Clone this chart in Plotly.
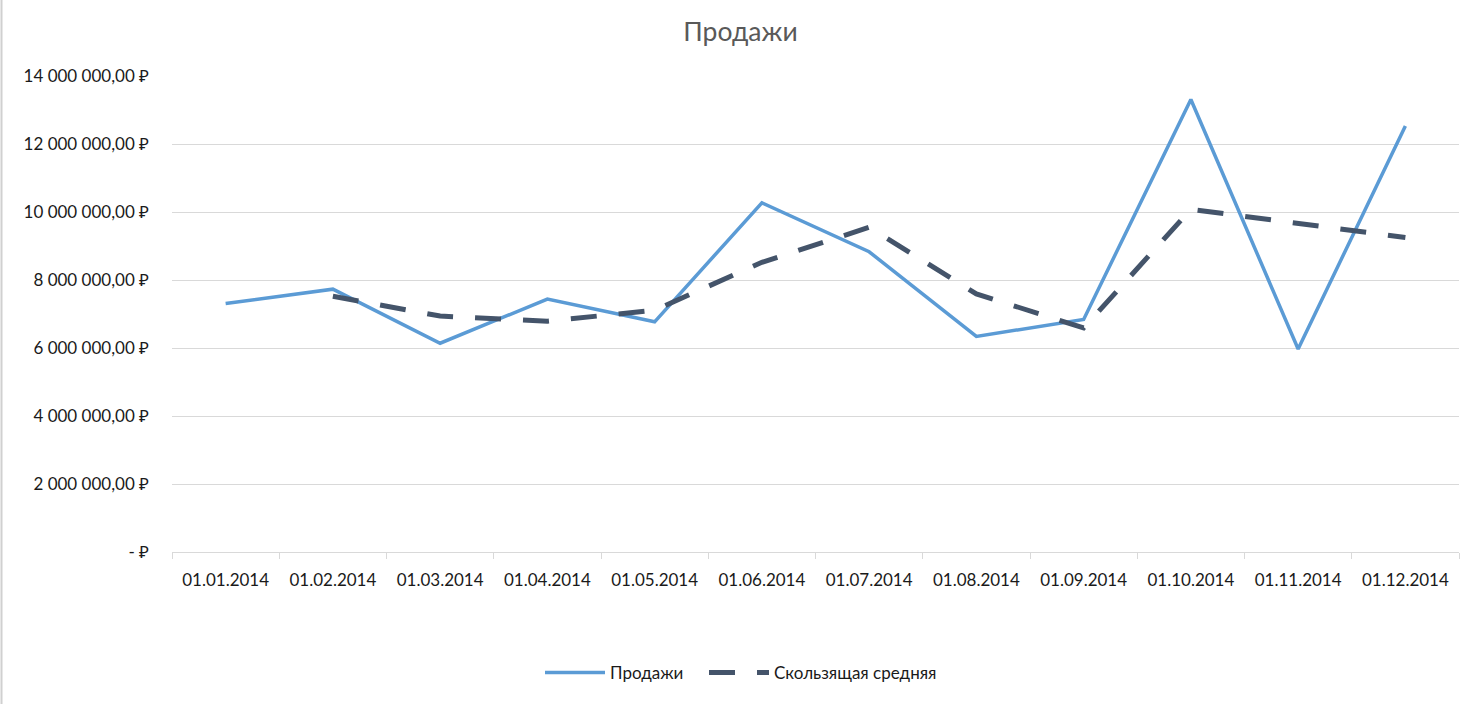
import plotly.graph_objects as go

categories = ["01.01.2014", "01.02.2014", "01.03.2014", "01.04.2014", "01.05.2014", "01.06.2014",
              "01.07.2014", "01.08.2014", "01.09.2014", "01.10.2014", "01.11.2014", "01.12.2014"]
sales = [7310000, 7730000, 6140000, 7440000, 6770000, 10270000,
         8830000, 6340000, 6840000, 13310000, 5970000, 12530000]
moving_avg = [None, 7520000, 6940000, 6790000, 7110000, 8520000,
              9550000, 7590000, 6590000, 10080000, 9650000, 9250000]
y_tickvals = [0, 2000000, 4000000, 6000000, 8000000, 10000000, 12000000, 14000000]
y_ticktext = ["- ₽", "2 000 000,00 ₽", "4 000 000,00 ₽", "6 000 000,00 ₽", "8 000 000,00 ₽",
              "10 000 000,00 ₽", "12 000 000,00 ₽", "14 000 000,00 ₽"]

FONT = "Lato, 'Noto Sans', 'DejaVu Sans', sans-serif"

fig = go.Figure()
fig.add_trace(go.Scatter(x=categories, y=sales, mode="lines", name="Продажи",
                         line=dict(color="#5B9BD5", width=3.5), legend="legend"))
fig.add_trace(go.Scatter(x=categories, y=moving_avg, mode="lines", name="Скользящая средняя",
                         line=dict(color="#44546A", width=5, dash="26px,22px"), legend="legend2"))

L, R, T, B = 172, 22, 76, 152
PW, PH = 1481 - L - R, 704 - T - B
leg_common = dict(orientation="h", xanchor="left", y=-121 / PH, yanchor="middle",
                  font=dict(size=17, color="#1a1a1a"), itemwidth=60, bgcolor="rgba(0,0,0,0)")
fig.update_layout(
    width=1481, height=704,
    margin=dict(l=L, r=R, t=T, b=B, autoexpand=False),
    paper_bgcolor="white", plot_bgcolor="white",
    font=dict(family=FONT, size=17, color="#1a1a1a"),
    title=dict(text="Продажи", x=0.5, xanchor="center", y=1 - 32 / 704, yanchor="middle",
               font=dict(family=FONT, size=26.5, color="#595959")),
    showlegend=True,
    legend=dict(x=(540 - L) / PW, **leg_common),
    legend2=dict(x=(704 - L) / PW, **leg_common),
    xaxis=dict(type="category", range=[-0.5, len(categories) - 0.5], automargin=False,
               showgrid=False, zeroline=False,
               showline=True, linecolor="#d9d9d9", linewidth=1.3,
               ticks="outside", tickson="boundaries", ticklen=6, tickcolor="#d9d9d9",
               tickwidth=1.3, ticklabelstandoff=12, fixedrange=True),
    yaxis=dict(range=[0, 14000000], tickvals=y_tickvals, ticktext=y_ticktext, automargin=False,
               showgrid=True, gridcolor="#d9d9d9", gridwidth=1.3, zeroline=False,
               showline=False, ticks="", ticklabelstandoff=22, fixedrange=True),
    shapes=[dict(type="line", xref="paper", yref="paper",
                 x0=-(L - 1.5) / PW, x1=-(L - 1.5) / PW,
                 y0=-B / PH, y1=1 + T / PH,
                 line=dict(color="#d0d0d0", width=2))],
)

fig.write_html("out.html", config={"displayModeBar": False},
               post_script="document.body.style.margin='0';")
